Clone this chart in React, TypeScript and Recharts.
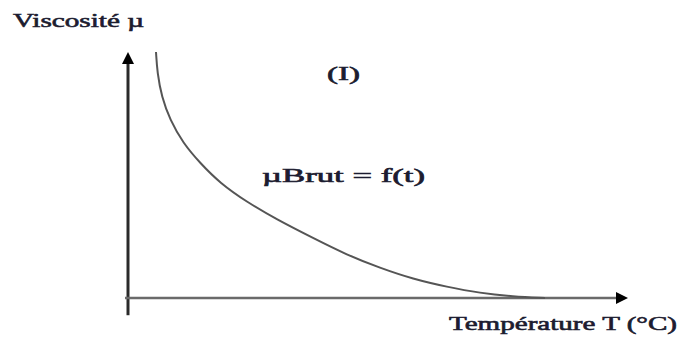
import React from 'react';
import { LineChart, Line, XAxis, YAxis, ReferenceLine } from 'recharts';

// température (unités arbitraires, 0-100) et viscosité relative
const temperature = [5.6, 5.86, 6.74, 8.4, 11, 14.4, 18.4, 23.8, 29.6, 37, 43.8, 50.4, 57, 63.8, 70.4, 77, 83.4];
const viscosite = [100, 91.5, 81.7, 72.4, 63, 54.9, 46.7, 39.0, 32.1, 24.4, 17.5, 12.2, 7.7, 4.5, 2.0, 0.6, 0];

const yAxisLabel = 'Viscosité µ';
const xAxisLabel = 'Température T (°C)';
const curveTitle = '(I)';
const curveLabel = 'µBrut  = f(t)';

const data = temperature.map((t, i) => ({ t, mu: viscosite[i] }));

const serif = '"Liberation Serif", "DejaVu Serif", serif';
const textStyle = { fontFamily: serif, fontSize: 19 };

const Arrow = (color: string, width: number) => (props: any) => {
  const { x1, y1, x2, y2 } = props;
  const dx = x2 - x1;
  const dy = y2 - y1;
  const len = Math.sqrt(dx * dx + dy * dy) || 1;
  const ux = dx / len;
  const uy = dy / len;
  const head = 12;
  const half = 6;
  const bx = x2 - ux * head;
  const by = y2 - uy * head;
  const pts = `${x2},${y2} ${bx - uy * half},${by + ux * half} ${bx + uy * half},${by - ux * half}`;
  return (
    <g>
      <line x1={x1} y1={y1} x2={bx} y2={by} stroke={color} strokeWidth={width} />
      <polygon points={pts} fill="#000" />
    </g>
  );
};

const Label = ({ x, y, w, children }: { x: number; y: number; w: number; children: string }) => (
  <text
    x={x}
    y={y}
    style={textStyle}
    fill="#1c1c30"
    stroke="#1c1c30"
    strokeWidth={0.6}
    textLength={w}
    lengthAdjust="spacingAndGlyphs"
  >
    {children}
  </text>
);

export default function App() {
  return (
    <div style={{ position: 'absolute', left: 0, top: 0, width: 679, height: 337, background: '#fff' }}>
      <LineChart
        width={679}
        height={337}
        data={data}
        margin={{ top: 52, right: 51, bottom: 39, left: 128 }}
      >
        <XAxis type="number" dataKey="t" domain={[0, 100]} hide />
        <YAxis type="number" domain={[0, 100]} hide />
        <ReferenceLine
          segment={[{ x: 0, y: -7 }, { x: 0, y: 100 }]}
          ifOverflow="visible"
          shape={Arrow('#2a2a2a', 3)}
        />
        <ReferenceLine
          segment={[{ x: -0.6, y: 0 }, { x: 100, y: 0 }]}
          ifOverflow="visible"
          shape={Arrow('#6a6a6a', 2.5)}
        />
        <Line
          type="basis"
          dataKey="mu"
          stroke="#555"
          strokeWidth={2}
          dot={false}
          isAnimationActive={false}
        />
        <Label x={13} y={27} w={131}>{yAxisLabel}</Label>
        <Label x={327} y={80} w={33}>{curveTitle}</Label>
        <Label x={262} y={182} w={163}>{curveLabel}</Label>
        <Label x={449} y={330} w={228}>{xAxisLabel}</Label>
      </LineChart>
    </div>
  );
}
